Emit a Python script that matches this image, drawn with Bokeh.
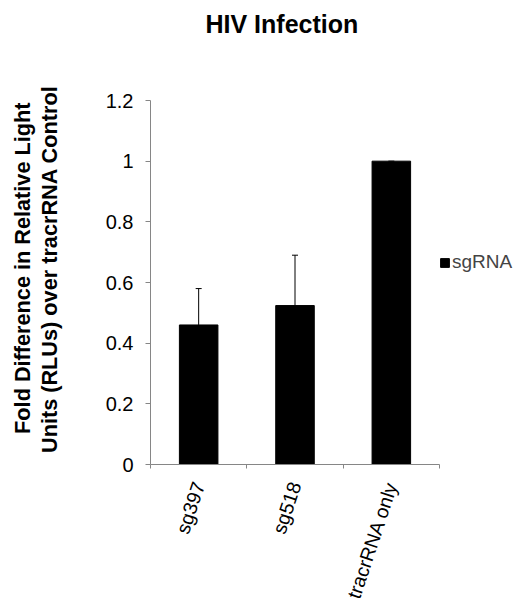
import numpy as np
from bokeh.plotting import figure
from bokeh.models import (Range1d, FixedTicker, Whisker, TeeHead, ColumnDataSource,
                          Legend, LegendItem, Title)
from bokeh.embed import file_html
from bokeh.resources import INLINE

categories = ["sg397", "sg518", "tracrRNA only"]
values = [0.46, 0.524, 1.0]
err_upper = [0.58, 0.69, 1.0]
y_ticks = [0, 0.2, 0.4, 0.6, 0.8, 1.0, 1.2]
y_tick_labels = ["0", "0.2", "0.4", "0.6", "0.8", "1", "1.2"]
series_name = "sgRNA"
title_text = "HIV Infection"
y_label_lines = ["Fold Difference in Relative Light", "Units (RLUs) over tracrRNA Control"]

FONT = "Liberation Sans"
AXIS_GREY = "#868686"

xpos = [i + 0.5 for i in range(len(categories))]
src = ColumnDataSource(dict(x=xpos, top=values, upper=err_upper, base=values))

p = figure(width=517, height=606, output_backend="svg", toolbar_location=None,
           x_range=Range1d(0, len(categories)), y_range=Range1d(0, 1.2),
           frame_width=289, frame_height=364,
           min_border_left=150, min_border_top=100, min_border_right=78, min_border_bottom=142)
p.title = None
p.outline_line_color = None
p.xgrid.visible = False
p.ygrid.visible = False
p.background_fill_color = "white"
p.border_fill_color = "white"

bars = p.vbar(x="x", top="top", width=0.4, bottom=0, source=src,
              fill_color="black", line_color="black")

w = Whisker(base="x", upper="upper", lower="base", source=src, dimension="height",
            line_color="black", line_width=1,
            upper_head=TeeHead(size=6, line_color="black", line_width=1),
            lower_head=None)
p.add_layout(w)

# y axis
ya = p.yaxis[0]
ya.ticker = FixedTicker(ticks=y_ticks)
ya.major_label_overrides = {t: l for t, l in zip(y_ticks, y_tick_labels)}
ya.minor_tick_line_color = None
ya.major_tick_out = 5
ya.major_tick_in = 0
ya.axis_line_color = AXIS_GREY
ya.major_tick_line_color = AXIS_GREY
ya.major_label_text_font = FONT
ya.major_label_text_font_size = "20px"
ya.major_label_text_color = "black"
ya.major_label_standoff = 12

# x axis
xa = p.xaxis[0]
xa.ticker = FixedTicker(ticks=xpos, minor_ticks=list(range(len(categories) + 1)))
xa.major_label_overrides = {x: c for x, c in zip(xpos, categories)}
xa.major_tick_line_color = None
xa.minor_tick_line_color = AXIS_GREY
xa.minor_tick_out = 4
xa.minor_tick_in = 0
xa.axis_line_color = AXIS_GREY
xa.major_label_orientation = 1.25
xa.major_label_text_font = FONT
xa.major_label_text_font_size = "19.5px"
xa.major_label_text_color = "black"
xa.major_label_standoff = 12


def spacer(size):
    return Title(text=" ", text_font_size="1px", standoff=size, text_color="white")


# title (spacer between frame and title pushes it up)
p.add_layout(spacer(58), "above")
t = Title(text=title_text, text_font=FONT, text_font_size="25px", text_font_style="bold",
          align="left", offset=55, vertical_align="top", standoff=0, text_color="black")
p.add_layout(t, "above")

# y label, two lines (spacer next to the axis, then line 2, then line 1)
p.add_layout(spacer(38), "left")
t2 = Title(text=y_label_lines[1], text_font=FONT, text_font_size="21.7px", text_font_style="bold",
           align="right", offset=-15, standoff=0, text_color="black")
t1 = Title(text=y_label_lines[0], text_font=FONT, text_font_size="21.7px", text_font_style="bold",
           align="right", offset=2, standoff=0, text_color="black")
p.add_layout(t2, "left")
p.add_layout(t1, "left")

legend = Legend(items=[LegendItem(label=series_name, renderers=[bars])],
                location=(0, 191), padding=0, margin=0, spacing=0,
                label_standoff=2, glyph_width=11, glyph_height=11,
                label_text_font=FONT, label_text_font_size="19px",
                border_line_color=None, background_fill_alpha=0)
p.add_layout(legend, "right")

open("out.html", "w").write(file_html(p, INLINE))
